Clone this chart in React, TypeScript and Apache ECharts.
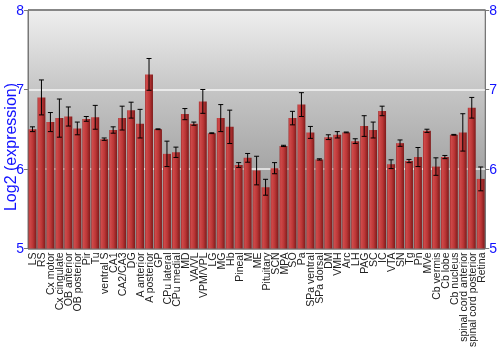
import React, { useEffect, useRef } from "react";
import * as echarts from "echarts";

const categories = [
  "LS", "RS", "Cx motor", "Cx cingulate", "OB anterior", "OB posterior", "Pir", "Tu",
  "ventral S", "CA1", "CA2/CA3", "DG", "A anterior", "A posterior", "GP", "CPu lateral",
  "CPu medial", "MD", "VA/VL", "VPM/VPL", "LG", "MG", "Hb", "Pineal", "M", "ME",
  "Pituitary", "SCN", "MPA", "SO", "Pa", "SPa ventral", "SPa dorsal", "DM", "VMH", "Arc",
  "LH", "PAG", "SC", "IC", "VTA", "SN", "Tg", "Pn", "MVe", "Cb vermis", "Cb lobe",
  "Cb nucleus", "spinal cord anterior", "spinal cord posterior", "Retina",
];

const values = [
  6.5, 6.9, 6.59, 6.64, 6.66, 6.51, 6.63, 6.65,
  6.375, 6.49, 6.64, 6.74, 6.57, 7.19, 6.5, 6.19,
  6.21, 6.69, 6.57, 6.85, 6.45, 6.64, 6.53, 6.05, 6.14, 5.98,
  5.77, 6.01, 6.29, 6.64, 6.81, 6.46, 6.12, 6.4, 6.43, 6.46,
  6.35, 6.54, 6.49, 6.73, 6.06, 6.325, 6.1, 6.15, 6.48, 6.03, 6.15,
  6.43, 6.46, 6.77, 5.875,
];

const errors = [
  0.03, 0.22, 0.12, 0.24, 0.12, 0.08, 0.03, 0.15,
  0.015, 0.04, 0.15, 0.1, 0.18, 0.2, 0.005, 0.16,
  0.065, 0.07, 0.02, 0.15, 0.005, 0.17, 0.21, 0.03, 0.055, 0.18,
  0.1, 0.07, 0.008, 0.085, 0.15, 0.075, 0.008, 0.03, 0.04, 0.005,
  0.03, 0.13, 0.1, 0.06, 0.055, 0.04, 0.02, 0.12, 0.02, 0.11, 0.02,
  0.005, 0.235, 0.13, 0.15,
];

const yTicks = { min: 5, max: 8, interval: 1 };

const FONT = "'Liberation Sans', Arial, sans-serif";

export default function App() {
  const ref = useRef<HTMLDivElement>(null);
  useEffect(() => {
    if (!ref.current) return;
    const chart = echarts.init(ref.current, null, { renderer: "svg" });
    const errData = values.map((v, i) => [i, v - errors[i], v + errors[i]]);
    const yAxisCommon = {
      type: "value",
      min: yTicks.min,
      max: yTicks.max,
      interval: yTicks.interval,
      axisLine: { show: true, lineStyle: { color: "#777", width: 1 } },
      axisTick: { show: true, length: 4, lineStyle: { color: "#777" } },
      axisLabel: { color: "#1010ff", fontSize: 14, fontFamily: FONT, margin: 4 },
    };
    chart.setOption({
      animation: false,
      grid: {
        left: 28,
        right: 13,
        top: 10,
        bottom: 100,
        show: true,
        borderColor: "#777",
        borderWidth: 1,
        backgroundColor: new echarts.graphic.LinearGradient(0, 0, 0, 1, [
          { offset: 0, color: "#efefef" },
          { offset: 0.35, color: "#c4c4c4" },
          { offset: 0.7, color: "#a2a2a2" },
          { offset: 1, color: "#8a8a8a" },
        ]),
      },
      graphic: [
        {
          type: "text",
          x: 10,
          y: 147,
          rotation: Math.PI / 2,
          style: {
            text: "Log2 (expression)",
            fill: "#1010ff",
            fontSize: 16,
            fontFamily: FONT,
            align: "center",
            verticalAlign: "middle",
          },
        },
      ],
      xAxis: {
        type: "category",
        data: categories,
        axisLine: { show: false },
        axisTick: { show: false },
        axisLabel: {
          interval: 0,
          rotate: 90,
          fontSize: 10.5,
          color: "#222",
          fontFamily: FONT,
          margin: 4,
        },
      },
      yAxis: [
        {
          ...yAxisCommon,
          position: "left",
          splitLine: {
            show: true,
            lineStyle: {
              color: ["#777", "rgba(255,255,255,0.85)", "rgba(255,255,255,0.85)", "#777"],
              width: 1.5,
            },
          },
        },
        {
          ...yAxisCommon,
          position: "right",
          splitLine: { show: false },
        },
      ],
      series: [
        {
          type: "bar",
          data: values,
          barWidth: "88%",
          itemStyle: {
            color: new echarts.graphic.LinearGradient(0, 0, 1, 0, [
              { offset: 0, color: "#9e2a2a" },
              { offset: 0.15, color: "#cf4a4a" },
              { offset: 0.55, color: "#bb3636" },
              { offset: 1, color: "#7e1a1a" },
            ]),
          },
        },
        {
          type: "custom",
          data: errData,
          z: 5,
          renderItem: (params: any, api: any) => {
            const x = api.value(0);
            const lo = api.coord([x, api.value(1)]);
            const hi = api.coord([x, api.value(2)]);
            const cap = 2.5;
            const style = { stroke: "#000", lineWidth: 1 };
            return {
              type: "group",
              children: [
                { type: "line", shape: { x1: lo[0], y1: lo[1], x2: hi[0], y2: hi[1] }, style },
                { type: "line", shape: { x1: lo[0] - cap, y1: lo[1], x2: lo[0] + cap, y2: lo[1] }, style },
                { type: "line", shape: { x1: hi[0] - cap, y1: hi[1], x2: hi[0] + cap, y2: hi[1] }, style },
              ],
            };
          },
        },
      ],
    });
    return () => chart.dispose();
  }, []);
  return <div ref={ref} style={{ width: 500, height: 350, position: "fixed", left: 0, top: 0 }} />;
}
